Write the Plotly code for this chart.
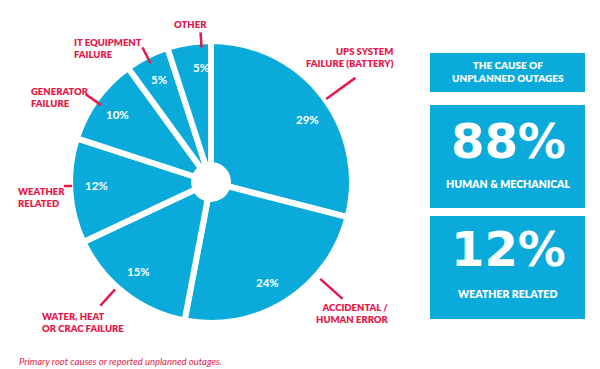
import math
import plotly.graph_objects as go

# ---- data ----
categories = ["UPS SYSTEM<br>FAILURE (BATTERY)", "ACCIDENTAL /<br>HUMAN ERROR",
              "WATER, HEAT<br>OR CRAC FAILURE", "WEATHER<br>RELATED",
              "GENERATOR<br>FAILURE", "IT EQUIPMENT<br>FAILURE", "OTHER"]
values = [29, 24, 15, 12, 10, 5, 5]
summary_values = ["88%", "12%"]
summary_labels = ["HUMAN & MECHANICAL", "WEATHER RELATED"]
box_title = "THE CAUSE OF<br>UNPLANNED OUTAGES"
caption = "Primary root causes or reported unplanned outages."

# ---- style / layout ----
W, H = 600, 369
BLUE = "#0AABDA"
RED = "#E5194B"
FONT = "Lato"
CX, CY, R = 211, 182, 141  # pie centre/radius in px

def px(x):
    return x / W

def py(y):
    return 1 - y / H

# leader-line angle offsets from slice mid-angle (deg), radii, and label anchors
angle_offsets = [2, -16, 4, 2, -1, 0, 5]
line_radii = [(142, 178), (146, 176), (144, 166), (139, 147), (134, 153), (133, 151), (135, 150)]
label_pos = [(396, 58, "right"), (390, 313, "right"), (40, 322, "left"), (16, 197, "left"),
             (29, 97, "left"), (72, 49, "left"), (190, 24, "center")]
pct_offsets = [5, 3, 1, 2, 0, 0, 4]
PCT_R = 115

fig = go.Figure()
fig.add_trace(go.Pie(
    labels=categories, values=values, sort=False, direction="clockwise", rotation=0,
    hole=0.12, textinfo="none",
    marker=dict(colors=[BLUE] * len(values), line=dict(color="white", width=6)),
    domain=dict(x=[px(CX - R), px(CX + R)], y=[py(CY + R), py(CY - R)]),
    showlegend=False, hoverinfo="label+percent",
))

shapes = []
annotations = []
total = sum(values)
cum = 0
for i, v in enumerate(values):
    mid_raw = (cum + v / 2) / total * 360
    cum += v
    # percentage label inside the slice
    b = math.radians(mid_raw + pct_offsets[i])
    annotations.append(dict(text=f"{v}%", x=px(CX + PCT_R * math.sin(b)), y=py(CY - PCT_R * math.cos(b)),
                            xref="paper", yref="paper", xanchor="center", yanchor="middle",
                            showarrow=False, font=dict(family=FONT, size=11.5, color="white", weight=700)))
    # leader line
    a = math.radians(mid_raw + angle_offsets[i])
    r0, r1 = line_radii[i]
    x0, y0 = CX + r0 * math.sin(a), CY - r0 * math.cos(a)
    x1, y1 = CX + r1 * math.sin(a), CY - r1 * math.cos(a)
    shapes.append(dict(type="line", xref="paper", yref="paper",
                       x0=px(x0), y0=py(y0), x1=px(x1), y1=py(y1),
                       line=dict(color=RED, width=2.5)))
    lx, ly, al = label_pos[i]
    annotations.append(dict(text=categories[i], x=px(lx), y=py(ly), xref="paper", yref="paper",
                            xanchor=al, yanchor="middle", align=al, showarrow=False,
                            font=dict(family=FONT, size=9.5, color=RED, weight=800)))

# right boxes
boxes = [(430, 53, 585, 92), (430, 105, 585, 208), (430, 216, 585, 319)]
for (bx0, by0, bx1, by1) in boxes:
    shapes.append(dict(type="rect", xref="paper", yref="paper", x0=px(bx0), x1=px(bx1),
                       y0=py(by1), y1=py(by0), fillcolor=BLUE, line=dict(width=0), layer="below"))
bxc = (430 + 585) / 2
annotations.append(dict(text=box_title, x=px(bxc), y=py(72), xref="paper", yref="paper",
                        xanchor="center", yanchor="middle", showarrow=False, align="center",
                        font=dict(family=FONT, size=10, color="white", weight=800)))
for val, lab, (vy, ly) in zip(summary_values, summary_labels, [(141, 184), (249, 294)]):
    annotations.append(dict(text=val, x=px(bxc + 1), y=py(vy), xref="paper", yref="paper",
                            xanchor="center", yanchor="middle", showarrow=False,
                            font=dict(family="DejaVu Sans", size=48, color="white", weight=700)))
    annotations.append(dict(text=lab, x=px(bxc), y=py(ly), xref="paper", yref="paper",
                            xanchor="center", yanchor="middle", showarrow=False,
                            font=dict(family=FONT, size=10.5, color="white", weight=800)))

annotations.append(dict(text="<i>" + caption + "</i>", x=px(17), y=py(361), xref="paper", yref="paper",
                        xanchor="left", yanchor="middle", showarrow=False,
                        font=dict(family=FONT, size=9.5, color=RED)))

fig.update_layout(width=W, height=H, margin=dict(l=0, r=0, t=0, b=0),
                  paper_bgcolor="white", plot_bgcolor="white",
                  shapes=shapes, annotations=annotations)
fig.write_html("out.html", config={"displayModeBar": False},
               post_script="document.body.style.margin='0';")
